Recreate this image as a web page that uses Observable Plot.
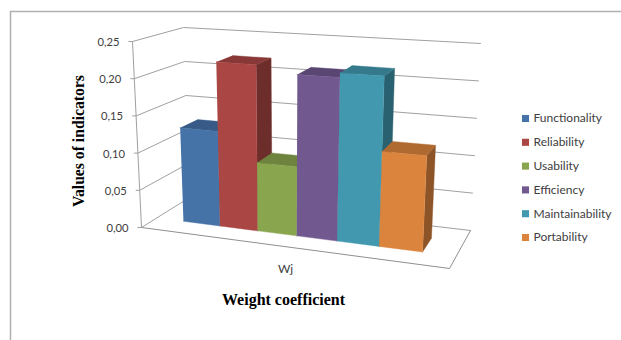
<!DOCTYPE html>
<html>
<head>
<meta charset="utf-8">
<script src="https://cdn.jsdelivr.net/npm/d3@7/dist/d3.min.js"></script>
<script src="https://cdn.jsdelivr.net/npm/@observablehq/plot@0.6/dist/plot.umd.min.js"></script>
<style>
  html, body { margin: 0; padding: 0; background: #fff; }
  svg { display: block; }
</style>
</head>
<body>
<div id="chart"></div>
<script>
// Weight coefficient of each software quality characteristic
const categories = ["Functionality", "Reliability", "Usability", "Efficiency", "Maintainability", "Portability"];
const weights = [0.128, 0.222, 0.091, 0.213, 0.219, 0.122];
const colors = ["#4572A7", "#AA4643", "#89A54E", "#71588F", "#4198AF", "#DB843D"];
const valueTicks = [0, 0.05, 0.10, 0.15, 0.20, 0.25];
const seriesLabel = "Wj";
const yTitle = "Values of indicators";
const xTitle = "Weight coefficient";

// Corners of the 3D plot box, in chart units
const box = {
  floor: {fl: [141, 227], fr: [449, 268], bl: [189, 197], br: [470, 230]},
  ceil:  {fl: [132, 41],  fr: [460, 63],  bl: [183, 27],  br: [480, 43]}
};
const vMax = 0.25;
const skew = 1.14;      // foreshortening along the category axis
const barFront = 0.32, barBack = 0.69;

const lerp = (a, b, t) => [a[0] + (b[0] - a[0]) * t, a[1] + (b[1] - a[1]) * t];
function project(s, d, v) {
  const u = s / (s + skew * (1 - s));
  const on = (q) => lerp(lerp(q.fl, q.fr, u), lerp(q.bl, q.br, u), d);
  return lerp(on(box.floor), on(box.ceil), v / vMax);
}

// Closed faces, painted left to right so nearer bars overlap their neighbours
const band = d3.scaleBand(categories, [0.1, 0.9]);
const shade = (c, k) => {
  const r = d3.rgb(c);
  return d3.rgb(r.r * k, r.g * k, r.b * k).formatHex();
};
const faces = [];
function addFace(id, fill, corners) {
  for (const [s, d, v] of corners) {
    const [x, y] = project(s, d, v);
    faces.push({id, fill, x, y});
  }
}
categories.forEach((c, i) => {
  const s0 = band(c), s1 = s0 + band.bandwidth(), v = weights[i], col = colors[i];
  addFace(c + "-side", shade(col, 0.64), [[s1, barFront, 0], [s1, barBack, 0], [s1, barBack, v], [s1, barFront, v]]);
  addFace(c + "-top", shade(col, 0.8), [[s0, barFront, v], [s1, barFront, v], [s1, barBack, v], [s0, barBack, v]]);
  addFace(c + "-front", col, [[s0, barFront, 0], [s1, barFront, 0], [s1, barFront, v], [s0, barFront, v]]);
});

// Gridlines run across the left wall and the back wall
const grid = valueTicks.flatMap((v) => [[0, 0, v], [0, 1, v], [1, 1, v]].map(([s, d, w]) => {
  const [x, y] = project(s, d, w);
  return {v, x, y};
}));
const outline = [[0, 0], [1, 0], [1, 1]].map(([s, d]) => {
  const [x, y] = project(s, d, 0);
  return {x, y};
});
const axisLine = [0, vMax].map((v) => {
  const [x, y] = project(0, 0, v);
  return {x, y};
});
const tickRows = valueTicks.map((v) => {
  const [x, y] = project(0, 0, v);
  return {v, x, y};
});
const comma = (v) => d3.format(".2f")(v).replace(".", ",");

const legendRows = categories.map((c, i) => ({c, col: colors[i], y: 118 + i * 23.8}));
const greyLine = "#a0a0a0";
const tickFont = "Lato, 'Open Sans', sans-serif";
const titleFont = "'Liberation Serif', serif";

const plot = Plot.plot({
  width: 621,
  height: 340,
  margin: 0,
  x: {domain: [0, 621], range: [0, 621], axis: null},
  y: {domain: [0, 340], range: [0, 340], axis: null},
  style: {background: "#fff"},
  marks: [
    // Outer frame
    Plot.ruleX([10], {y1: 11, y2: 340, stroke: "#b0b0b0", strokeWidth: 1.5}),
    Plot.ruleY([11], {x1: 10, x2: 621, stroke: "#b0b0b0", strokeWidth: 1.5}),
    // Walls and floor
    Plot.line(grid, {x: "x", y: "y", z: "v", stroke: greyLine, strokeWidth: 1}),
    Plot.line(outline, {x: "x", y: "y", stroke: "#8f8f8f", strokeWidth: 1}),
    Plot.line(axisLine, {x: "x", y: "y", stroke: greyLine, strokeWidth: 1}),
    Plot.link(tickRows, {x1: "x", y1: "y", x2: (d) => d.x - 4, y2: "y", stroke: greyLine, strokeWidth: 1}),
    Plot.text(tickRows, {x: "x", y: "y", dx: -13, dy: 1, text: (d) => comma(d.v), textAnchor: "end", fontFamily: tickFont, fontSize: 11.2, fill: "#404040"}),
    // Bars
    Plot.line(faces, {x: "x", y: "y", z: "id", fill: "fill", stroke: "fill", strokeWidth: 0.4}),
    // Category and axis titles
    Plot.text([seriesLabel], {x: () => 285, y: () => 269, text: (d) => d, fontFamily: tickFont, fontSize: 12, fill: "#404040"}),
    Plot.text([xTitle], {x: () => 283, y: () => 299, text: (d) => d, fontFamily: titleFont, fontSize: 16, fontWeight: "bold", fill: "#000"}),
    Plot.text([yTitle], {x: () => 78.5, y: () => 140.5, text: (d) => d, rotate: -90, fontFamily: titleFont, fontSize: 15.7, fontWeight: "bold", fill: "#000"}),
    // Legend
    Plot.dot(legendRows, {x: () => 525, y: "y", symbol: "square", r: 4, fill: "col"}),
    Plot.text(legendRows, {x: () => 533, y: "y", text: "c", textAnchor: "start", fontFamily: tickFont, fontSize: 12, fill: "#404040"})
  ]
});
document.getElementById("chart").append(plot);
</script>
</body>
</html>
